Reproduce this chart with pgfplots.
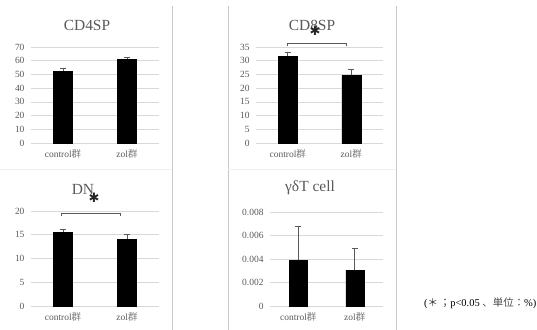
\documentclass[border=0pt]{standalone}
\usepackage{fontspec}
\setmainfont{Liberation Serif}
\newfontfamily\cjk{Noto Sans CJK JP}
\newfontfamily\djv{DejaVu Sans}
\usepackage{pgfplots}
\pgfplotsset{compat=1.18}
\definecolor{txtgray}{HTML}{595959}
\definecolor{gridgray}{HTML}{D9D9D9}
\definecolor{sepgray}{HTML}{C8C8C8}
\pgfplotsset{
  mychart/.style={
    scale only axis, height=96bp,
    xmin=-0.5, xmax=1.5, ymin=0,
    axis line style={draw=none},
    ymajorgrids, grid style={gridgray, line width=0.6pt},
    major tick length=0,
    xtick={0,1},
    xticklabels={control{\cjk\color{txtgray!80} 群}, zol{\cjk\color{txtgray!80} 群}},
    tick label style={font=\fontsize{9.5}{10}\selectfont, text=txtgray},
    xticklabel style={yshift=-3bp},
    yticklabel style={xshift=-3bp},
    /pgf/number format/assume math mode=true,
    clip=false,
    anchor=south west,
  },
  mybar/.style={ybar, fill=black, draw=black, mark=none,
    error bars/.cd, y dir=plus, y explicit,
    error bar style={txtgray, line width=0.6pt},
    error mark options={rotate=90, mark size=3bp, txtgray, line width=0.6pt}},
}
\begin{document}
\begin{tikzpicture}
\useasboundingbox (0,0) rectangle (537bp,-330bp);
% separators
\draw[sepgray, line width=0.6pt] (172bp,-6bp) -- (172bp,-330bp);
\draw[sepgray, line width=0.6pt] (228bp,-6bp) -- (228bp,-330bp);
\draw[sepgray, line width=0.6pt] (396bp,-6bp) -- (396bp,-330bp);
\draw[gray!12, line width=0.5pt] (0bp,-169bp) -- (172bp,-169bp);
\draw[gray!12, line width=0.5pt] (228bp,-169bp) -- (396bp,-169bp);

% CD4SP
\begin{axis}[mychart, at={(31bp,-143bp)}, width=128bp, ymax=70, ytick={0,10,...,70}]
\addplot[bar width=19bp, mybar] coordinates {(0,52.5) +- (0,2.2) (1,61.2) +- (0,1.5)};
\end{axis}
\node[font=\fontsize{15.5}{16}\selectfont, text=txtgray] at (87bp,-25bp) {CD4SP};

% CD8SP
\begin{axis}[mychart, at={(256bp,-143bp)}, width=127bp, ymax=35, ytick={0,5,...,35}]
\addplot[bar width=19bp, mybar] coordinates {(0,31.7) +- (0,1.5) (1,24.7) +- (0,2.2)};
\draw[txtgray, line width=0.7pt] (axis cs:0,35.2) -- (axis cs:0,36.5) -- (axis cs:0.92,36.5) -- (axis cs:0.92,35.2);
\end{axis}
\node[font=\fontsize{15.5}{16}\selectfont, text=txtgray] at (312bp,-25bp) {CD8SP};
\node[font=\djv\fontsize{13}{13}\selectfont, text=black!85] at (315bp,-31bp) {✱};

% DN
\begin{axis}[mychart, at={(31bp,-306bp)}, width=128bp, height=95bp, ymax=20, ytick={0,5,...,20}]
\addplot[bar width=19bp, mybar] coordinates {(0,15.5) +- (0,0.6) (1,14.1) +- (0,1.1)};
\draw[txtgray, line width=0.7pt] (axis cs:-0.03,18.9) -- (axis cs:-0.03,19.6) -- (axis cs:0.89,19.6) -- (axis cs:0.89,18.9);
\end{axis}
\node[font=\fontsize{15.5}{16}\selectfont, text=txtgray] at (83bp,-189bp) {DN};
\node[font=\djv\fontsize{13}{13}\selectfont, text=black!85] at (94bp,-198bp) {✱};

% gamma delta T cell
\begin{axis}[mychart, at={(270bp,-306bp)}, width=113bp, height=94bp, ymax=0.008,
  ytick={0,0.002,0.004,0.006,0.008}, yticklabels={0,0.002,0.004,0.006,0.008},
  scaled y ticks=false]
\addplot[bar width=18bp, mybar] coordinates {(0,0.0039) +- (0,0.0029) (1,0.00305) +- (0,0.00184)};
\end{axis}
\node[font=\fontsize{15.5}{16}\selectfont, text=txtgray] at (310bp,-188bp) {γδT cell};

% note
\node[anchor=west, font=\fontsize{10.5}{11}\selectfont, inner sep=0pt] at (424bp,-303bp) {({\cjk\color{black!80} ＊}\,{\cjk\color{black!80} ；}p<0.05 {\cjk\color{black!70} 、単位：}\%)};
\end{tikzpicture}
\end{document}
